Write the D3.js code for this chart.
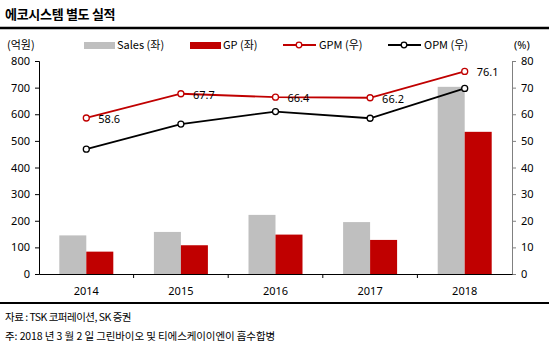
<!DOCTYPE html>
<html>
<head>
<meta charset="utf-8">
<script src="https://cdn.jsdelivr.net/npm/d3@7"></script>
<style>
  body { margin: 0; background: #fff; }
  svg text { font-family: "Noto Sans", "Noto Sans CJK KR", sans-serif; fill: #000; }
  .kr { font-family: "Noto Sans CJK KR", sans-serif; }
</style>
</head>
<body>
<div id="chart"></div>
<script>
// data
const years = ["2014", "2015", "2016", "2017", "2018"];
const sales = [145, 158, 222, 195, 703];
const gp = [84, 108, 148, 128, 534];
const gpm = [58.6, 67.7, 66.4, 66.2, 76.1];
const opm = [46.9, 56.3, 61.0, 58.5, 69.7];
const leftTicks = [0, 100, 200, 300, 400, 500, 600, 700, 800];
const rightTicks = [0, 10, 20, 30, 40, 50, 60, 70, 80];

const width = 549, height = 353;
const margin = { t: 61, l: 39, r: 37, b: 79 };

const svg = d3.select("#chart").append("svg")
  .attr("width", width)
  .attr("height", height);

const x = d3.scaleBand()
  .domain(years)
  .range([margin.l, width - margin.r]);

const y = d3.scaleLinear()
  .domain([0, 800])
  .range([height - margin.b, margin.t]);

const y2 = d3.scaleLinear()
  .domain([0, 80])
  .range([height - margin.b, margin.t]);

const barW = 27;

// title + rule
svg.append("text").attr("class", "kr")
  .attr("x", 5).attr("y", 19)
  .attr("font-size", 13).attr("font-weight", "bold")
  .attr("letter-spacing", -0.3)
  .text("에코시스템 별도 실적");
svg.append("line")
  .attr("x1", 0).attr("x2", width).attr("y1", 28).attr("y2", 28)
  .attr("stroke", "#000").attr("stroke-width", 2.5);

// bars
svg.append("g").selectAll("rect")
  .data(sales)
  .enter().append("rect")
  .attr("x", (d, i) => x(years[i]) + x.bandwidth() / 2 - barW)
  .attr("y", d => y(d))
  .attr("width", barW)
  .attr("height", d => y(0) - y(d))
  .attr("fill", "#bfbfbf");

svg.append("g").selectAll("rect")
  .data(gp)
  .enter().append("rect")
  .attr("x", (d, i) => x(years[i]) + x.bandwidth() / 2)
  .attr("y", d => y(d))
  .attr("width", barW)
  .attr("height", d => y(0) - y(d))
  .attr("fill", "#c00000");

// axes
const gl = svg.append("g")
  .attr("transform", "translate(" + margin.l + ",0)")
  .call(d3.axisLeft(y).tickValues(leftTicks).tickSize(4).tickPadding(5));
gl.selectAll("text").attr("font-size", 11);
gl.selectAll("path,line").attr("stroke", "#000");

const gr = svg.append("g")
  .attr("transform", "translate(" + (width - margin.r) + ",0)")
  .call(d3.axisRight(y2).tickValues(rightTicks).tickSize(4).tickPadding(5));
gr.selectAll("text").attr("font-size", 11);
gr.selectAll("path,line").attr("stroke", "#808080");

const gb = svg.append("g")
  .attr("transform", "translate(0," + y(0) + ")")
  .call(d3.axisBottom(x).tickSize(0).tickPadding(13));
gb.selectAll("text").attr("font-size", 11);
gb.select("path").attr("stroke", "#000");
// category boundary ticks
gb.selectAll(".sep")
  .data(years.slice(1))
  .enter().append("line")
  .attr("x1", d => x(d)).attr("x2", d => x(d))
  .attr("y1", 0).attr("y2", 4)
  .attr("stroke", "#000");

// lines
const cx = (d, i) => x(years[i]) + x.bandwidth() / 2;

function drawLine(vals, color) {
  const line = d3.line().x(cx).y(d => y2(d));
  svg.append("path").datum(vals)
    .attr("d", line)
    .attr("fill", "none")
    .attr("stroke", color)
    .attr("stroke-width", 1.8);
  svg.append("g").selectAll("circle")
    .data(vals)
    .enter().append("circle")
    .attr("cx", cx)
    .attr("cy", d => y2(d))
    .attr("r", 3)
    .attr("fill", "#fff")
    .attr("stroke", color)
    .attr("stroke-width", 1.3);
}
drawLine(opm, "#000");
drawLine(gpm, "#c00000");

svg.append("g").selectAll("text")
  .data(gpm)
  .enter().append("text")
  .attr("x", (d, i) => cx(d, i) + 12)
  .attr("y", d => y2(d) + 5)
  .attr("font-size", 11)
  .text(d => d.toFixed(1));

// legend
const ly = 45;
svg.append("text").attr("class", "kr")
  .attr("x", 7).attr("y", ly + 4).attr("font-size", 11).text("(억원)");
svg.append("text")
  .attr("x", 514).attr("y", ly + 4).attr("font-size", 11).text("(%)");

svg.append("rect").attr("x", 84).attr("y", ly - 3).attr("width", 31).attr("height", 7).attr("fill", "#bfbfbf");
svg.append("text").attr("class", "kr").attr("x", 117).attr("y", ly + 4).attr("font-size", 11).text("Sales (좌)");
svg.append("rect").attr("x", 190).attr("y", ly - 3).attr("width", 31).attr("height", 7).attr("fill", "#c00000");
svg.append("text").attr("class", "kr").attr("x", 223).attr("y", ly + 4).attr("font-size", 11).text("GP (좌)");

const lineLegend = [
  { x: 283, label: "GPM (우)", color: "#c00000" },
  { x: 388, label: "OPM (우)", color: "#000" }
];
lineLegend.forEach(l => {
  svg.append("line").attr("x1", l.x).attr("x2", l.x + 33)
    .attr("y1", ly).attr("y2", ly).attr("stroke", l.color).attr("stroke-width", 2);
  svg.append("circle").attr("cx", l.x + 16).attr("cy", ly).attr("r", 2.8)
    .attr("fill", "#fff").attr("stroke", l.color).attr("stroke-width", 1.3);
  svg.append("text").attr("class", "kr").attr("x", l.x + 36).attr("y", ly + 4)
    .attr("font-size", 11).text(l.label);
});

// footer
svg.append("line")
  .attr("x1", 0).attr("x2", width).attr("y1", 303).attr("y2", 303)
  .attr("stroke", "#000").attr("stroke-width", 2);
svg.append("text").attr("class", "kr")
  .attr("x", 5).attr("y", 321).attr("font-size", 10.5).attr("letter-spacing", -0.5)
  .text("자료 : TSK 코퍼레이션, SK 증권");
svg.append("text").attr("class", "kr")
  .attr("x", 5).attr("y", 340).attr("font-size", 10.5).attr("letter-spacing", -0.1)
  .text("주: 2018 년 3 월 2 일 그린바이오 및 티에스케이이엔이 흡수합병");
</script>
</body>
</html>
